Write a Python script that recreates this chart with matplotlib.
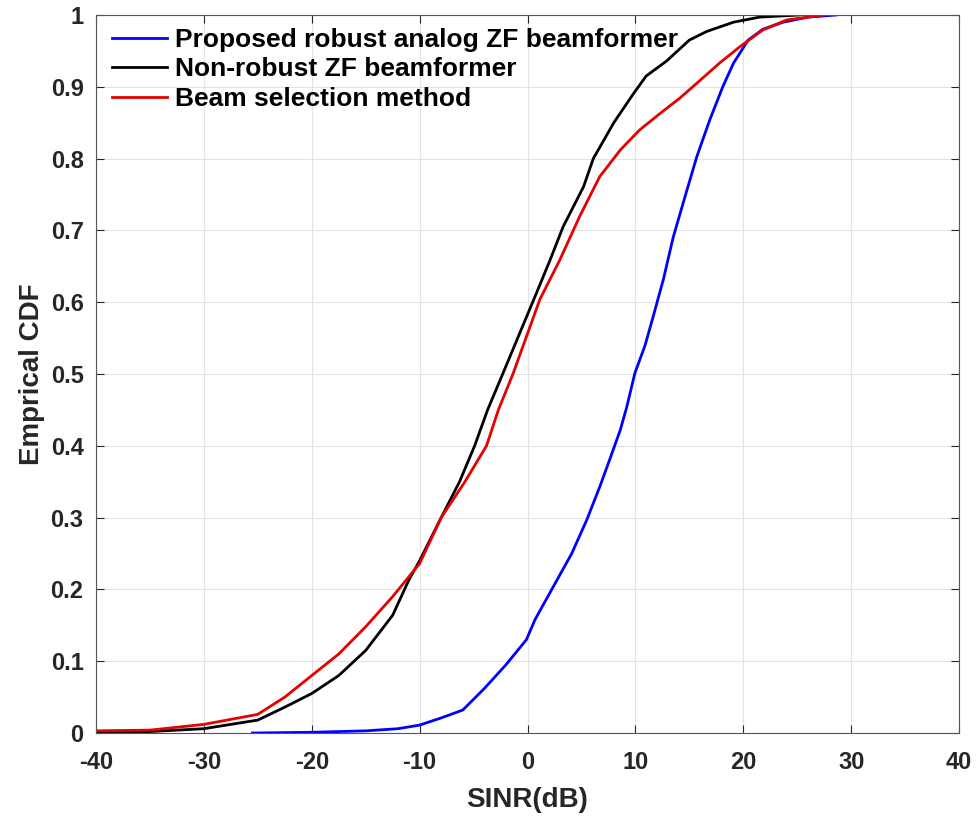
import numpy as np
import matplotlib.pyplot as plt

plt.rcParams['font.family'] = ['Liberation Sans', 'DejaVu Sans']
plt.rcParams['font.weight'] = 'bold'
plt.rcParams['axes.unicode_minus'] = False

# Proposed robust analog ZF beamformer
prop_x = [-25.5, -20, -15, -12, -10, -8, -6, -4, -2, -0.1, 0.7, 2.4, 4.1, 5.5, 6.7,
          7.6, 8.6, 9.2, 9.95, 10.9, 11.65, 12.6, 13.5, 14.6, 15.7, 16.9, 18.1, 19.1,
          20.45, 21.8, 23.7, 26, 28.6]
prop_y = [0.0, 0.001, 0.003, 0.006, 0.011, 0.021, 0.032, 0.062, 0.095, 0.13, 0.158,
          0.204, 0.25, 0.297, 0.343, 0.38, 0.422, 0.454, 0.501, 0.54, 0.58, 0.632,
          0.69, 0.747, 0.803, 0.854, 0.90, 0.933, 0.965, 0.98, 0.99, 0.997, 1.0]

# Non-robust ZF beamformer
nonrob_x = [-40, -35, -30, -25, -22.5, -20, -17.5, -15, -12.5, -11, -10, -8, -6.3, -4.9,
            -3.7, -2.3, 0.7, 2.1, 3.3, 5.2, 6.1, 8.0, 9.8, 11.0, 12.9, 15.0, 16.6, 19.1,
            21.5, 25.2]
nonrob_y = [0.0, 0.002, 0.006, 0.018, 0.036, 0.055, 0.08, 0.115, 0.164, 0.213, 0.24,
            0.30, 0.35, 0.40, 0.45, 0.50, 0.608, 0.659, 0.705, 0.761, 0.80, 0.85, 0.89,
            0.915, 0.936, 0.965, 0.977, 0.99, 0.997, 1.0]

# Beam selection method
beam_x = [-40, -35, -30, -25, -22.5, -20, -17.5, -15, -12.5, -10, -8, -5.8, -3.8, -2.7,
          -1.35, 1.15, 3.0, 4.85, 6.7, 8.6, 10.4, 12.3, 14.1, 16.0, 17.8, 19.7, 21.8,
          24.0, 27.4]
beam_y = [0.003, 0.004, 0.012, 0.026, 0.05, 0.08, 0.11, 0.148, 0.19, 0.236, 0.30, 0.35,
          0.40, 0.45, 0.50, 0.604, 0.659, 0.72, 0.775, 0.812, 0.84, 0.863, 0.884, 0.909,
          0.933, 0.956, 0.979, 0.993, 1.0]

yticks = [0, 0.1, 0.2, 0.3, 0.4, 0.5, 0.6, 0.7, 0.8, 0.9, 1]
ylabels = ['0', '0.1', '0.2', '0.3', '0.4', '0.5', '0.6', '0.7', '0.8', '0.9', '1']

fig = plt.figure(figsize=(9.77, 8.16), dpi=100)
ax = fig.add_axes([96 / 977, 83 / 816, 863 / 977, 718 / 816])

ax.plot(prop_x, prop_y, color='#0000ff', lw=2.0, label='Proposed robust analog ZF beamformer')
ax.plot(nonrob_x, nonrob_y, color='black', lw=2.0, label='Non-robust ZF beamformer')
ax.plot(beam_x, beam_y, color='#e60000', lw=2.0, label='Beam selection method')

ax.set_xlim(-40, 40)
ax.set_ylim(0, 1)
ax.set_xticks(np.arange(-40, 41, 10))
ax.set_yticks(yticks)
ax.set_yticklabels(ylabels)
ax.grid(True, color='#e3e3e3', lw=0.8)
ax.set_axisbelow(True)
ax.tick_params(direction='in', top=True, right=True, labelsize=17, colors='#262626',
               length=6, width=0.8)
ax.tick_params(axis='x', pad=13)
ax.tick_params(axis='y', pad=9)
for s in ax.spines.values():
    s.set_color('#555555')
ax.set_xlabel('SINR(dB)', fontsize=20, fontweight='bold', color='#262626', labelpad=9)
ax.set_ylabel('Emprical CDF', fontsize=20, fontweight='bold', color='#262626', labelpad=4)

ax.legend(loc='upper left', frameon=False, handlelength=2.1,
          handletextpad=0.3, labelspacing=0.2, borderaxespad=0.1,
          bbox_to_anchor=(0.003, 1.0), prop={'weight': 'bold', 'size': 19})

fig.savefig('out.png', dpi=100)
